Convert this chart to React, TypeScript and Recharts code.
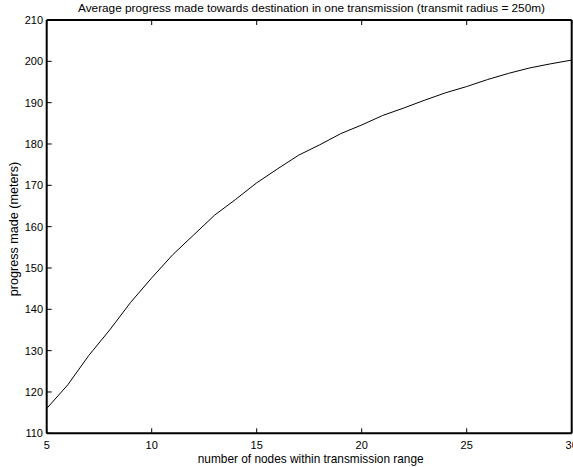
import { Line, LineChart, XAxis, YAxis } from 'recharts'

const nodes = [5, 6, 7, 8, 9, 10, 11, 12, 13, 14, 15, 16, 17, 18, 19, 20, 21, 22, 23, 24, 25, 26, 27, 28, 29, 30]
const progress = [
  116.0, 121.7, 128.8, 135.0, 141.7, 147.6, 153.2, 158.0, 162.8, 166.6, 170.6, 174.0, 177.3,
  179.8, 182.5, 184.6, 186.9, 188.7, 190.6, 192.4, 193.9, 195.6, 197.1, 198.4, 199.4, 200.3,
]
const xTicks = [5, 10, 15, 20, 25, 30]
const yTicks = [110, 120, 130, 140, 150, 160, 170, 180, 190, 200, 210]

const TITLE = 'Average progress made towards destination in one transmission (transmit radius = 250m)'
const X_LABEL = 'number of nodes within transmission range'
const Y_LABEL = 'progress made (meters)'

const data = nodes.map((n, i) => ({ nodes: n, progress: progress[i] }))

const FONT = 'Arial, "Liberation Sans", Helvetica, sans-serif'
const tickStyle = { fill: '#000', fontSize: 11, fontFamily: FONT }
const axisLine = { stroke: '#000', strokeWidth: 2 }
const tickLine = { stroke: '#000', strokeWidth: 1 }
const blank = () => ''

function App() {
  return (
    <div
      style={{
        position: 'absolute',
        left: 0,
        top: 0,
        width: 573,
        height: 467,
        overflow: 'hidden',
        background: '#fff',
        fontFamily: FONT,
      }}
    >
      <LineChart width={600} height={467} data={data} margin={{ top: 0, right: 0, bottom: 0, left: 0 }}>
        <XAxis
          xAxisId="bottom"
          dataKey="nodes"
          type="number"
          domain={[5, 30]}
          ticks={xTicks}
          height={33.7}
          tick={tickStyle}
          axisLine={axisLine}
          tickLine={tickLine}
          tickSize={-5}
          tickMargin={13}
          interval={0}
        />
        <XAxis
          xAxisId="top"
          orientation="top"
          dataKey="nodes"
          type="number"
          domain={[5, 30]}
          ticks={xTicks}
          height={20}
          tickFormatter={blank}
          axisLine={axisLine}
          tickLine={tickLine}
          tickSize={-5}
        />
        <YAxis
          yAxisId="left"
          type="number"
          domain={[110, 210]}
          ticks={yTicks}
          width={46.7}
          tick={tickStyle}
          axisLine={axisLine}
          tickLine={tickLine}
          tickSize={-5}
          tickMargin={8.7}
          interval={0}
        />
        <YAxis
          yAxisId="right"
          orientation="right"
          type="number"
          domain={[110, 210]}
          ticks={yTicks}
          width={28.3}
          tickFormatter={blank}
          axisLine={axisLine}
          tickLine={tickLine}
          tickSize={-5}
        />
        <Line
          xAxisId="bottom"
          yAxisId="left"
          type="linear"
          dataKey="progress"
          stroke="#000"
          strokeWidth={1}
          dot={false}
          isAnimationActive={false}
        />
      </LineChart>
      <div
        style={{
          position: 'absolute',
          left: 311.5,
          top: 8,
          transform: 'translate(-50%, -50%)',
          whiteSpace: 'nowrap',
          fontSize: 11.8,
        }}
      >
        {TITLE}
      </div>
      <div
        style={{
          position: 'absolute',
          left: 310.7,
          top: 459,
          transform: 'translate(-50%, -50%)',
          whiteSpace: 'nowrap',
          fontSize: 11.85,
        }}
      >
        {X_LABEL}
      </div>
      <div
        style={{
          position: 'absolute',
          left: 14,
          top: 229,
          transform: 'translate(-50%, -50%) rotate(-90deg)',
          whiteSpace: 'nowrap',
          fontSize: 12.6,
        }}
      >
        {Y_LABEL}
      </div>
    </div>
  )
}

export default App
